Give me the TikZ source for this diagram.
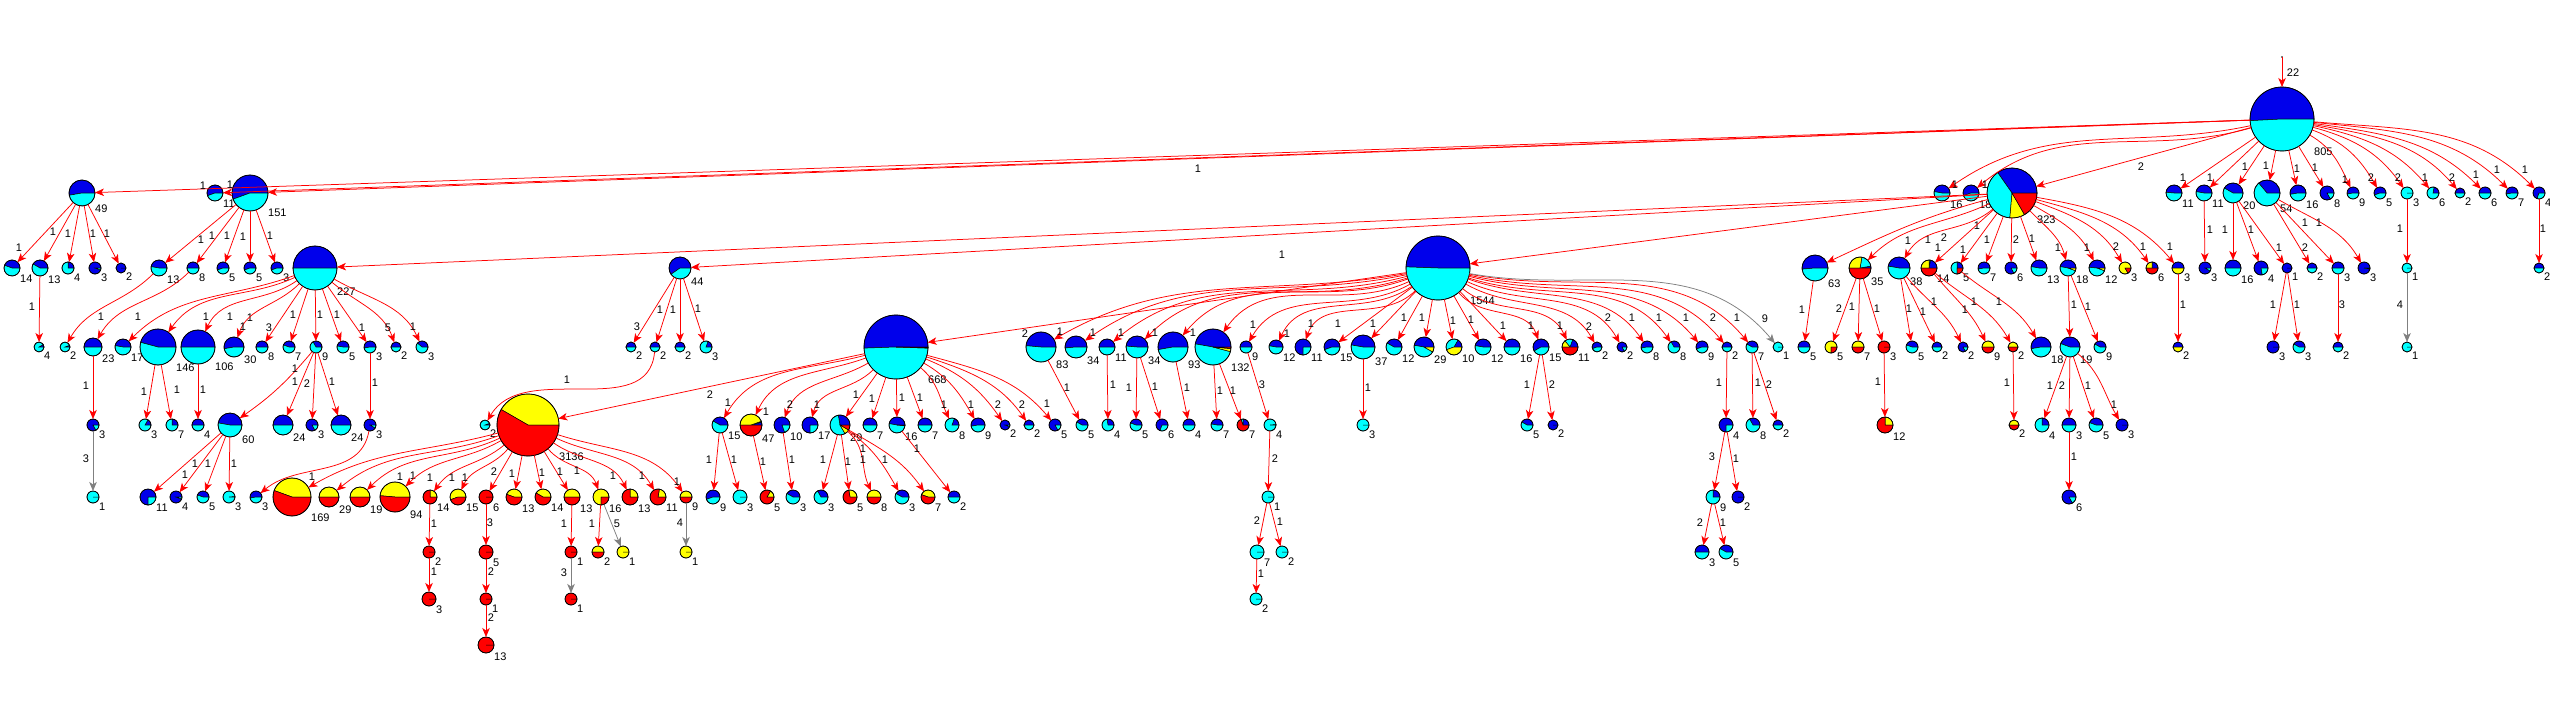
\documentclass[tikz,border=0pt]{standalone}
\usepackage{fontspec}
\setmainfont{Liberation Sans}
\usetikzlibrary{arrows.meta}
\definecolor{pb}{RGB}{0,0,235}
\definecolor{pc}{RGB}{0,255,255}
\definecolor{py}{RGB}{255,255,0}
\definecolor{pr}{RGB}{255,0,0}
\definecolor{eg}{RGB}{128,128,128}
\tikzset{
 pie/.style={circle,draw=black,line width=0.7pt,inner sep=0pt,outer sep=0pt},
 wedge/.style={draw=black,line width=0.5pt},
 lnk/.style={draw=pr,line width=0.75pt,-{Stealth[length=9pt,width=7.5pt,inset=2.5pt]}},
 elab/.style={font=\fontsize{11}{12}\selectfont,inner sep=0pt,text=black},
 nlab/.style={font=\fontsize{11}{12}\selectfont,inner sep=0pt,anchor=north west,text=black},
}
% name, x, y (pixels, downward), r, blue deg, cyan deg, yellow deg, label
\newcommand{\PieNode}[8]{%
 \pgfmathsetmacro{\aA}{#5}%
 \pgfmathsetmacro{\aB}{#5+#6}%
 \pgfmathsetmacro{\aC}{#5+#6+#7}%
 \begin{scope}[shift={(#2,-#3)}]
 \ifdim\aA pt>0pt \filldraw[wedge,fill=pb] (0,0) -- (0:#4pt) arc[start angle=0,end angle=\aA,radius=#4pt] -- cycle;\fi
 \ifdim #6pt>0pt \filldraw[wedge,fill=pc] (0,0) -- (\aA:#4pt) arc[start angle=\aA,end angle=\aB,radius=#4pt] -- cycle;\fi
 \ifdim #7pt>0pt \filldraw[wedge,fill=py] (0,0) -- (\aB:#4pt) arc[start angle=\aB,end angle=\aC,radius=#4pt] -- cycle;\fi
 \ifdim \aC pt<360pt \filldraw[wedge,fill=pr] (0,0) -- (\aC:#4pt) arc[start angle=\aC,end angle=360,radius=#4pt] -- cycle;\fi
 \end{scope}
 \node[pie,minimum size={2*#4pt}] (#1) at (#2,-#3) {};
 \node[nlab] at ({#2+#4},{-#3-0.9*#4}) {#8};
}
% [opts]{from}{path op}{to}{label}{lx}{ly}
\newcommand{\Edg}[7][]{\draw[lnk,#1] (#2) #3 (#4) node[elab] at (#6,-#7) {#5};}
\begin{document}
\begin{tikzpicture}[x=1pt,y=1pt]
\useasboundingbox (0,0) rectangle (2550,-704);
\fill[white] (0,0) rectangle (2550,-704);
% ---------------- nodes ----------------
\PieNode{R}{2282}{119}{32}{183}{177}{0}{805}
% row A
\PieNode{a49}{82}{193}{13}{190}{170}{0}{49}
\PieNode{a11L}{215}{193}{8}{200}{160}{0}{11}
\PieNode{a151}{250}{193}{18}{200}{160}{0}{151}
\PieNode{a16}{1942}{193}{8}{170}{190}{0}{16}
\PieNode{a18}{1971}{193}{8}{200}{160}{0}{18}
\PieNode{a323}{2012}{193}{25}{125}{140}{35}{323}
\PieNode{a11a}{2174}{193}{8}{175}{185}{0}{11}
\PieNode{a11b}{2204}{193}{8}{170}{190}{0}{11}
\PieNode{a20}{2233}{193}{10}{150}{210}{0}{20}
\PieNode{a54}{2267}{193}{13}{130}{230}{0}{54}
\PieNode{a16r}{2298}{193}{8}{190}{170}{0}{16}
\PieNode{a8}{2327}{193}{7}{300}{60}{0}{8}
\PieNode{a9}{2353}{193}{6}{190}{170}{0}{9}
\PieNode{a5}{2380}{193}{6}{200}{160}{0}{5}
\PieNode{a3c}{2407}{193}{6}{0}{360}{0}{3}
\PieNode{a6c}{2433}{193}{6}{80}{280}{0}{6}
\PieNode{a2}{2460}{193}{5}{180}{180}{0}{2}
\PieNode{a6}{2485}{193}{6}{180}{180}{0}{6}
\PieNode{a7}{2512}{193}{6}{190}{170}{0}{7}
\PieNode{a4}{2539}{193}{6}{250}{110}{0}{4}
% row B
\PieNode{b14}{12}{268}{8}{160}{200}{0}{14}
\PieNode{b13}{40}{268}{8}{150}{210}{0}{13}
\PieNode{b4}{68}{268}{6}{90}{270}{0}{4}
\PieNode{b3}{95}{268}{6}{340}{20}{0}{3}
\PieNode{b2}{121}{268}{5}{360}{0}{0}{2}
\PieNode{b13b}{159}{268}{8}{170}{190}{0}{13}
\PieNode{b8}{193}{268}{6}{180}{180}{0}{8}
\PieNode{b5}{223}{268}{6}{200}{160}{0}{5}
\PieNode{b5b}{250}{268}{6}{200}{160}{0}{5}
\PieNode{b3b}{277}{268}{6}{200}{160}{0}{3}
\PieNode{b227}{315}{268}{22}{180}{180}{0}{227}
\PieNode{b44}{680}{268}{11}{215}{145}{0}{44}
\PieNode{b1544}{1438}{268}{32}{178}{182}{0}{1544}
\PieNode{b63}{1815}{268}{13}{185}{175}{0}{63}
\PieNode{b35}{1860}{268}{11}{10}{70}{100}{35}
\PieNode{b38}{1899}{268}{11}{170}{190}{0}{38}
\PieNode{b14r}{1929}{268}{8}{80}{10}{90}{14}
\PieNode{b5r}{1957}{268}{6}{90}{180}{0}{5}
\PieNode{b7r}{1984}{268}{6}{190}{170}{0}{7}
\PieNode{b6r}{2011}{268}{6}{300}{60}{0}{6}
\PieNode{b13r}{2039}{268}{8}{170}{190}{0}{13}
\PieNode{b18r}{2068}{268}{8}{170}{170}{20}{18}
\PieNode{b12r}{2097}{268}{8}{175}{165}{20}{12}
\PieNode{b3y}{2125}{268}{6}{0}{0}{300}{3}
\PieNode{b6y}{2152}{268}{6}{90}{0}{90}{6}
\PieNode{b3by}{2178}{268}{6}{180}{0}{180}{3}
\PieNode{b3c}{2205}{268}{6}{330}{30}{0}{3}
\PieNode{b16}{2233}{268}{8}{180}{180}{0}{16}
\PieNode{b4r}{2261}{268}{7}{280}{80}{0}{4}
\PieNode{b1}{2287}{268}{5}{360}{0}{0}{1}
\PieNode{b2r}{2312}{268}{5}{180}{180}{0}{2}
\PieNode{b3r}{2338}{268}{6}{180}{180}{0}{3}
\PieNode{b3s}{2364}{268}{6}{350}{10}{0}{3}
\PieNode{b1c}{2407}{268}{5}{0}{360}{0}{1}
\PieNode{b2s}{2539}{268}{5}{180}{180}{0}{2}
% row C
\PieNode{c4}{39}{347}{5}{30}{330}{0}{4}
\PieNode{c2}{65}{347}{5}{20}{340}{0}{2}
\PieNode{c23}{93}{347}{9}{180}{180}{0}{23}
\PieNode{c17}{123}{347}{8}{170}{190}{0}{17}
\PieNode{c146}{158}{347}{18}{165}{195}{0}{146}
\PieNode{c106}{198}{347}{17}{180}{180}{0}{106}
\PieNode{c30}{234}{347}{10}{190}{170}{0}{30}
\PieNode{c8}{262}{347}{6}{180}{180}{0}{8}
\PieNode{c7}{289}{347}{6}{160}{200}{0}{7}
\PieNode{c9}{316}{347}{6}{120}{240}{0}{9}
\PieNode{c5}{343}{347}{6}{170}{190}{0}{5}
\PieNode{c3}{370}{347}{6}{190}{170}{0}{3}
\PieNode{c2b}{396}{347}{5}{180}{180}{0}{2}
\PieNode{c3x}{422}{347}{6}{140}{220}{0}{3}
\PieNode{c2p}{631}{347}{5}{180}{180}{0}{2}
\PieNode{c2q}{655}{347}{5}{180}{180}{0}{2}
\PieNode{c2r}{680}{347}{5}{180}{180}{0}{2}
\PieNode{c3d}{706}{347}{6}{70}{290}{0}{3}
\PieNode{c668}{896}{347}{32}{182}{176}{1}{668}
\PieNode{c83}{1041}{347}{15}{175}{185}{0}{83}
\PieNode{c34}{1076}{347}{11}{185}{175}{0}{34}
\PieNode{c11}{1107}{347}{8}{180}{180}{0}{11}
\PieNode{c34b}{1137}{347}{11}{175}{185}{0}{34}
\PieNode{c93}{1173}{347}{15}{190}{170}{0}{93}
\PieNode{c132}{1213}{347}{18}{170}{175}{10}{132}
\PieNode{c9b}{1246}{347}{6}{180}{180}{0}{9}
\PieNode{c12}{1276}{347}{7}{170}{190}{0}{12}
\PieNode{c11b}{1303}{347}{8}{270}{90}{0}{11}
\PieNode{c15}{1332}{347}{8}{200}{160}{0}{15}
\PieNode{c37}{1363}{347}{12}{170}{190}{0}{37}
\PieNode{c12b}{1394}{347}{8}{150}{210}{0}{12}
\PieNode{c29}{1424}{347}{10}{170}{160}{30}{29}
\PieNode{c10}{1454}{347}{8}{60}{140}{160}{10}
\PieNode{c12c}{1483}{347}{8}{170}{190}{0}{12}
\PieNode{c16}{1512}{347}{8}{180}{180}{0}{16}
\PieNode{c15b}{1541}{347}{8}{210}{150}{0}{15}
\PieNode{c11r}{1570}{347}{8}{70}{60}{50}{11}
\PieNode{c2x}{1597}{347}{5}{200}{160}{0}{2}
\PieNode{c2y}{1622}{347}{5}{300}{60}{0}{2}
\PieNode{c8a}{1647}{347}{6}{190}{170}{0}{8}
\PieNode{c8b}{1674}{347}{6}{120}{240}{0}{8}
\PieNode{c9a}{1702}{347}{6}{200}{160}{0}{9}
\PieNode{c2z}{1727}{347}{5}{180}{180}{0}{2}
\PieNode{c7b}{1752}{347}{6}{150}{210}{0}{7}
\PieNode{c1g}{1778}{347}{5}{0}{360}{0}{1}
\PieNode{c5a}{1804}{347}{6}{180}{180}{0}{5}
\PieNode{c5y}{1831}{347}{6}{0}{0}{270}{5}
\PieNode{c7y}{1858}{347}{6}{0}{0}{180}{7}
\PieNode{c3r}{1884}{347}{6}{0}{0}{0}{3}
\PieNode{c5c}{1912}{347}{6}{160}{200}{0}{5}
\PieNode{c2c}{1937}{347}{5}{180}{180}{0}{2}
\PieNode{c2d}{1963}{347}{5}{300}{60}{0}{2}
\PieNode{c9y}{1988}{347}{6}{0}{0}{180}{9}
\PieNode{c2yr}{2013}{347}{5}{0}{0}{180}{2}
\PieNode{c18}{2041}{347}{10}{190}{170}{0}{18}
\PieNode{c19}{2070}{347}{10}{160}{200}{0}{19}
\PieNode{c9c}{2100}{347}{6}{150}{210}{0}{9}
\PieNode{c2by}{2178}{347}{5}{180}{0}{180}{2}
\PieNode{c3a}{2273}{347}{6}{360}{0}{0}{3}
\PieNode{c3b}{2299}{347}{6}{150}{210}{0}{3}
\PieNode{c2s}{2338}{347}{5}{180}{180}{0}{2}
\PieNode{c1q}{2407}{347}{5}{0}{360}{0}{1}
% row D
\PieNode{d3}{93}{425}{6}{300}{60}{0}{3}
\PieNode{d3b}{145}{425}{6}{60}{300}{0}{3}
\PieNode{d7}{172}{425}{6}{90}{270}{0}{7}
\PieNode{d4}{198}{425}{6}{180}{180}{0}{4}
\PieNode{d60}{230}{425}{12}{170}{190}{0}{60}
\PieNode{d24}{283}{425}{10}{180}{180}{0}{24}
\PieNode{d3c}{312}{425}{6}{300}{60}{0}{3}
\PieNode{d24b}{341}{425}{10}{180}{180}{0}{24}
\PieNode{d3d}{370}{425}{6}{330}{30}{0}{3}
\PieNode{d2c}{485}{425}{5}{20}{340}{0}{2}
\PieNode{d3136}{528}{425}{31}{0}{0}{150}{3136}
\PieNode{d15}{720}{425}{8}{150}{210}{0}{15}
\PieNode{d47}{751}{425}{11}{15}{5}{160}{47}
\PieNode{d10}{782}{425}{8}{290}{70}{0}{10}
\PieNode{d17}{810}{425}{8}{270}{90}{0}{17}
\PieNode{d29}{840}{425}{10}{100}{200}{30}{29}
\PieNode{d7a}{870}{425}{7}{180}{180}{0}{7}
\PieNode{d16}{897}{425}{8}{170}{185}{0}{16}
\PieNode{d7b}{925}{425}{7}{180}{180}{0}{7}
\PieNode{d8}{952}{425}{7}{70}{290}{0}{8}
\PieNode{d9}{978}{425}{7}{190}{170}{0}{9}
\PieNode{d2}{1005}{425}{5}{340}{20}{0}{2}
\PieNode{d2b}{1029}{425}{5}{180}{180}{0}{2}
\PieNode{d5}{1055}{425}{6}{300}{60}{0}{5}
\PieNode{d5b}{1082}{425}{6}{150}{210}{0}{5}
\PieNode{d4b}{1108}{425}{6}{100}{260}{0}{4}
\PieNode{d5c}{1136}{425}{6}{160}{200}{0}{5}
\PieNode{d6}{1162}{425}{6}{250}{110}{0}{6}
\PieNode{d4c}{1189}{425}{6}{180}{180}{0}{4}
\PieNode{d7c}{1217}{425}{6}{170}{190}{0}{7}
\PieNode{d7r}{1243}{425}{6}{90}{20}{0}{7}
\PieNode{d4d}{1270}{425}{6}{5}{355}{0}{4}
\PieNode{d3e}{1363}{425}{6}{0}{360}{0}{3}
\PieNode{d5d}{1527}{425}{6}{150}{210}{0}{5}
\PieNode{d2d}{1553}{425}{5}{360}{0}{0}{2}
\PieNode{d4e}{1726}{425}{7}{270}{90}{0}{4}
\PieNode{d8e}{1753}{425}{7}{120}{240}{0}{8}
\PieNode{d2e}{1778}{425}{5}{180}{180}{0}{2}
\PieNode{d12}{1885}{425}{8}{0}{0}{90}{12}
\PieNode{d2f}{2014}{425}{5}{0}{0}{180}{2}
\PieNode{d4f}{2042}{425}{7}{90}{270}{0}{4}
\PieNode{d3f}{2069}{425}{7}{180}{180}{0}{3}
\PieNode{d5f}{2096}{425}{7}{160}{200}{0}{5}
\PieNode{d3g}{2122}{425}{6}{360}{0}{0}{3}
% row E
\PieNode{e1}{93}{497}{6}{0}{360}{0}{1}
\PieNode{e11}{148}{497}{8}{270}{90}{0}{11}
\PieNode{e4}{176}{497}{6}{340}{20}{0}{4}
\PieNode{e5}{203}{497}{6}{160}{200}{0}{5}
\PieNode{e3}{229}{497}{6}{5}{355}{0}{3}
\PieNode{e3b}{256}{497}{6}{190}{170}{0}{3}
\PieNode{e169}{292}{497}{19}{0}{0}{160}{169}
\PieNode{e29}{329}{497}{10}{0}{0}{180}{29}
\PieNode{e19}{360}{497}{10}{0}{0}{180}{19}
\PieNode{e94}{395}{497}{15}{0}{0}{175}{94}
\PieNode{e14}{430}{497}{7}{0}{0}{90}{14}
\PieNode{e15}{458}{497}{8}{0}{0}{200}{15}
\PieNode{e6}{486}{497}{7}{0}{0}{0}{6}
\PieNode{e13}{514}{497}{8}{0}{0}{160}{13}
\PieNode{e14b}{543}{497}{8}{0}{0}{150}{14}
\PieNode{e13b}{572}{497}{8}{0}{0}{180}{13}
\PieNode{e16}{601}{497}{8}{0}{0}{270}{16}
\PieNode{e13c}{630}{497}{8}{0}{0}{90}{13}
\PieNode{e11y}{658}{497}{8}{0}{0}{80}{11}
\PieNode{e9}{686}{497}{6}{0}{0}{180}{9}
\PieNode{e9b}{713}{497}{7}{200}{160}{0}{9}
\PieNode{e3c}{740}{497}{7}{0}{360}{0}{3}
\PieNode{e5r}{767}{497}{7}{0}{0}{60}{5}
\PieNode{e3d}{793}{497}{7}{150}{210}{0}{3}
\PieNode{e3e}{821}{497}{7}{120}{240}{0}{3}
\PieNode{e5y}{850}{497}{7}{0}{0}{100}{5}
\PieNode{e8}{874}{497}{7}{0}{0}{180}{8}
\PieNode{e3f}{902}{497}{7}{150}{210}{0}{3}
\PieNode{e7y}{928}{497}{7}{0}{0}{160}{7}
\PieNode{e2g}{954}{497}{6}{180}{180}{0}{2}
\PieNode{e2h}{1268}{497}{6}{0}{360}{0}{1}
\PieNode{e9c}{1713}{497}{7}{90}{270}{0}{9}
\PieNode{e2i}{1738}{497}{6}{360}{0}{0}{2}
\PieNode{e6b}{2069}{497}{7}{300}{60}{0}{6}
% row F
\PieNode{f2}{429}{552}{6}{0}{0}{0}{2}
\PieNode{f5}{486}{552}{7}{0}{0}{0}{5}
\PieNode{f1}{571}{552}{6}{0}{0}{0}{1}
\PieNode{f2b}{598}{552}{6}{0}{0}{180}{2}
\PieNode{f1y}{623}{552}{6}{0}{0}{360}{1}
\PieNode{f1z}{686}{552}{6}{0}{0}{360}{1}
\PieNode{f7}{1257}{552}{7}{0}{360}{0}{7}
\PieNode{f2c}{1282}{552}{6}{0}{360}{0}{2}
\PieNode{f3}{1702}{552}{7}{180}{180}{0}{3}
\PieNode{f5b}{1726}{552}{7}{150}{210}{0}{5}
% row G, H
\PieNode{g3}{429}{599}{7}{0}{0}{0}{3}
\PieNode{g1}{486}{599}{6}{0}{0}{0}{1}
\PieNode{g1b}{571}{599}{6}{0}{0}{0}{1}
\PieNode{g2}{1256}{599}{6}{0}{360}{0}{2}
\PieNode{h13}{486}{645}{8}{0}{0}{0}{13}
% ---------------- edges ----------------
\coordinate (rin) at (2282,-57);
\fill (rin) circle (0.8pt);
\Edg{rin}{--}{R}{22}{2293}{73}
\Edg{R}{--}{a49}{1}{1198}{169}
\Edg{R}{--}{a11L}{1}{203}{186}
\Edg{R}{--}{a151}{1}{230}{185}
\Edg{R}{--}{a323}{2}{2141}{167}
\Edg{R}{to[out=192,in=35]}{a16}{1}{1955}{185}
\Edg{R}{to[out=196,in=40]}{a18}{1}{1985}{185}
\Edg{R}{--}{a11a}{1}{2183}{178}
\Edg{R}{--}{a11b}{1}{2210}{178}
\Edg{R}{--}{a20}{1}{2245}{167}
\Edg{R}{--}{a54}{1}{2266}{166}
\Edg{R}{--}{a16r}{1}{2297}{169}
\Edg{R}{--}{a8}{1}{2315}{168}
\Edg{R}{to[out=-30,in=115]}{a9}{1}{2345}{180}
\Edg{R}{to[out=-20,in=120]}{a5}{2}{2371}{178}
\Edg{R}{to[out=-15,in=125]}{a3c}{2}{2398}{178}
\Edg{R}{to[out=-12,in=130]}{a6c}{1}{2425}{178}
\Edg{R}{to[out=-10,in=130]}{a2}{2}{2452}{178}
\Edg{R}{to[out=-8,in=135]}{a6}{1}{2476}{175}
\Edg{R}{to[out=-6,in=135]}{a7}{1}{2497}{170}
\Edg{R}{to[out=-5,in=135]}{a4}{1}{2525}{170}
% A -> B
\Edg{a49}{--}{b14}{1}{19}{248}
\Edg{a49}{--}{b13}{1}{53}{232}
\Edg{a49}{--}{b4}{1}{68}{234}
\Edg{a49}{--}{b3}{1}{93}{234}
\Edg{a49}{--}{b2}{1}{107}{234}
\Edg{a151}{--}{b13b}{1}{201}{240}
\Edg{a151}{--}{b8}{1}{212}{236}
\Edg{a151}{--}{b5}{1}{227}{236}
\Edg{a151}{--}{b5b}{1}{243}{237}
\Edg{a151}{--}{b3b}{1}{270}{236}
\draw[lnk] (a323) -- (b227);
\Edg{a323}{--}{b44}{1}{1282}{255}
\Edg{a323}{--}{b1544}{1}{1977}{226}
\Edg{a323}{to[out=195,in=25]}{b63}{1}{1908}{241}
\Edg{a323}{to[out=205,in=45]}{b35}{1}{1928}{240}
\Edg{a323}{to[out=220,in=60]}{b38}{1}{1938}{248}
\Edg{a323}{--}{b14r}{2}{1944}{238}
\Edg{a323}{--}{b5r}{1}{1963}{250}
\Edg{a323}{--}{b7r}{1}{1987}{240}
\Edg{a323}{--}{b6r}{2}{2016}{240}
\Edg{a323}{--}{b13r}{1}{2032}{239}
\Edg{a323}{to[out=-45,in=105]}{b18r}{1}{2058}{248}
\Edg{a323}{to[out=-30,in=115]}{b12r}{1}{2087}{248}
\Edg{a323}{to[out=-20,in=120]}{b3y}{2}{2116}{247}
\Edg{a323}{to[out=-15,in=125]}{b6y}{1}{2143}{247}
\Edg{a323}{to[out=-10,in=130]}{b3by}{1}{2170}{247}
\Edg{a11b}{--}{b3c}{1}{2210}{230}
\Edg{a20}{--}{b16}{1}{2225}{230}
\Edg{a20}{--}{b4r}{1}{2251}{230}
\Edg{a20}{--}{b1}{1}{2279}{248}
\Edg{a54}{--}{b2r}{2}{2305}{248}
\Edg{a54}{--}{b3r}{1}{2305}{223}
\Edg{a54}{to[out=-30,in=120]}{b3s}{1}{2319}{223}
\Edg{a3c}{--}{b1c}{1}{2400}{229}
\Edg{a4}{--}{b2s}{1}{2543}{229}
% B -> C
\Edg{b13}{--}{c4}{1}{32}{307}
\Edg{b13b}{to[out=225,in=60]}{c2}{1}{101}{317}
\Edg{b8}{to[out=225,in=60]}{c23}{1}{138}{317}
\Edg{b227}{to[out=200,in=45]}{c17}{1}{206}{317}
\Edg{b227}{to[out=205,in=55]}{c146}{1}{230}{317}
\Edg{b227}{to[out=215,in=65]}{c106}{1}{250}{318}
\Edg{b227}{to[out=225,in=70]}{c30}{1}{243}{327}
\Edg{b227}{--}{c8}{3}{269}{328}
\Edg{b227}{--}{c7}{1}{293}{315}
\Edg{b227}{--}{c9}{1}{320}{315}
\Edg{b227}{--}{c5}{1}{337}{315}
\Edg{b227}{--}{c3}{1}{362}{328}
\Edg{b227}{to[out=-40,in=110]}{c2b}{5}{388}{328}
\Edg{b227}{to[out=-30,in=115]}{c3x}{1}{413}{327}
\Edg{b44}{--}{c2p}{3}{637}{327}
\Edg{b44}{--}{c2q}{1}{660}{310}
\Edg{b44}{--}{c2r}{1}{673}{310}
\Edg{b44}{--}{c3d}{1}{698}{309}
\draw[lnk] (b1544) -- (c668);
\Edg{b1544}{to[out=190,in=30]}{c83}{2}{1025}{334}
\Edg{b1544}{to[out=192,in=35]}{c34}{1}{1060}{332}
\Edg{b1544}{to[out=195,in=40]}{c11}{1}{1093}{333}
\Edg{b1544}{to[out=198,in=45]}{c34b}{1}{1121}{333}
\Edg{b1544}{to[out=200,in=50]}{c93}{1}{1155}{333}
\Edg{b1544}{to[out=205,in=55]}{c132}{1}{1193}{333}
\Edg{b1544}{to[out=210,in=60]}{c9b}{1}{1253}{325}
\Edg{b1544}{to[out=215,in=65]}{c12}{1}{1287}{334}
\Edg{b1544}{to[out=225,in=70]}{c11b}{1}{1311}{324}
\Edg{b1544}{--}{c15}{1}{1338}{324}
\Edg{b1544}{--}{c37}{1}{1373}{324}
\Edg{b1544}{--}{c12b}{1}{1404}{318}
\Edg{b1544}{--}{c29}{1}{1422}{318}
\Edg{b1544}{--}{c10}{1}{1453}{321}
\Edg{b1544}{--}{c12c}{1}{1471}{320}
\Edg{b1544}{--}{c16}{1}{1503}{326}
\Edg{b1544}{to[out=-50,in=110]}{c15b}{1}{1531}{326}
\Edg{b1544}{to[out=-40,in=115]}{c11r}{1}{1560}{326}
\Edg{b1544}{to[out=-30,in=120]}{c2x}{2}{1589}{327}
\Edg{b1544}{to[out=-25,in=120]}{c2y}{2}{1608}{318}
\Edg{b1544}{to[out=-20,in=125]}{c8a}{1}{1632}{318}
\Edg{b1544}{to[out=-18,in=125]}{c8b}{1}{1659}{318}
\Edg{b1544}{to[out=-15,in=130]}{c9a}{1}{1686}{318}
\Edg{b1544}{to[out=-13,in=130]}{c2z}{2}{1713}{318}
\Edg{b1544}{to[out=-11,in=130]}{c7b}{1}{1737}{318}
\Edg[draw=eg]{b1544}{to[out=-10,in=130]}{c1g}{9}{1765}{319}
\Edg{b63}{--}{c5a}{1}{1802}{310}
\Edg{b35}{--}{c5y}{2}{1839}{309}
\Edg{b35}{--}{c7y}{1}{1852}{307}
\Edg{b35}{--}{c3r}{1}{1877}{309}
\Edg{b38}{--}{c5c}{1}{1909}{309}
\Edg{b38}{--}{c2c}{1}{1923}{312}
\Edg{b38}{to[out=-50,in=115]}{c2d}{1}{1934}{302}
\Edg{b14r}{to[out=-50,in=115]}{c9y}{1}{1965}{310}
\Edg{b14r}{to[out=-40,in=120]}{c2yr}{1}{1974}{302}
\Edg{b5r}{to[out=-40,in=120]}{c18}{1}{1999}{302}
\Edg{b18r}{--}{c19}{1}{2074}{305}
\Edg{b18r}{--}{c9c}{1}{2088}{307}
\Edg{b3by}{--}{c2by}{1}{2183}{305}
\Edg{b1}{--}{c3a}{1}{2273}{305}
\Edg{b1}{--}{c3b}{1}{2297}{305}
\Edg{b3r}{--}{c2s}{3}{2342}{305}
\Edg[draw=eg]{b1c}{--}{c1q}{4}{2400}{305}
% C -> D
\Edg{c23}{--}{d3}{1}{86}{386}
\Edg{c146}{--}{d3b}{1}{144}{392}
\Edg{c146}{--}{d7}{1}{177}{390}
\Edg{c106}{--}{d4}{1}{203}{390}
\Edg{c9}{to[out=230,in=35]}{d60}{1}{295}{369}
\Edg{c9}{--}{d24}{1}{295}{382}
\Edg{c9}{--}{d3c}{2}{307}{384}
\Edg{c9}{--}{d24b}{1}{332}{382}
\Edg{c3}{--}{d3d}{1}{375}{383}
\Edg{c2q}{to[out=-95,in=60]}{d2c}{1}{567}{380}
\Edg{c668}{--}{d3136}{2}{710}{395}
\Edg{c668}{to[out=195,in=60]}{d15}{1}{728}{403}
\Edg{c668}{to[out=200,in=65]}{d47}{1}{766}{412}
\Edg{c668}{to[out=210,in=70]}{d10}{2}{790}{405}
\Edg{c668}{to[out=225,in=75]}{d17}{1}{817}{405}
\Edg{c668}{--}{d29}{1}{856}{395}
\Edg{c668}{--}{d7a}{1}{872}{399}
\Edg{c668}{--}{d16}{1}{902}{398}
\Edg{c668}{--}{d7b}{1}{920}{398}
\Edg{c668}{to[out=-40,in=115]}{d8}{1}{944}{405}
\Edg{c668}{to[out=-30,in=120]}{d9}{1}{971}{405}
\Edg{c668}{to[out=-22,in=125]}{d2}{2}{998}{405}
\Edg{c668}{to[out=-18,in=125]}{d2b}{2}{1022}{405}
\Edg{c668}{to[out=-15,in=130]}{d5}{1}{1047}{404}
\Edg{c83}{--}{d5b}{1}{1067}{388}
\Edg{c11}{--}{d4b}{1}{1113}{385}
\Edg{c34b}{--}{d5c}{1}{1129}{388}
\Edg{c34b}{--}{d6}{1}{1155}{387}
\Edg{c93}{--}{d4c}{1}{1187}{388}
\Edg{c132}{--}{d7c}{1}{1220}{391}
\Edg{c132}{--}{d7r}{1}{1233}{391}
\Edg{c9b}{--}{d4d}{3}{1262}{385}
\Edg{c37}{--}{d3e}{1}{1368}{388}
\Edg{c15b}{--}{d5d}{1}{1527}{385}
\Edg{c15b}{--}{d2d}{2}{1552}{385}
\Edg{c2z}{--}{d4e}{1}{1719}{383}
\Edg{c7b}{--}{d8e}{1}{1758}{383}
\Edg{c7b}{--}{d2e}{2}{1769}{385}
\Edg{c3r}{--}{d12}{1}{1878}{382}
\Edg{c2yr}{--}{d2f}{1}{2007}{383}
\Edg{c19}{--}{d4f}{1}{2050}{386}
\Edg{c19}{--}{d3f}{2}{2062}{386}
\Edg{c19}{--}{d5f}{1}{2088}{386}
\Edg{c19}{to[out=-40,in=120]}{d3g}{1}{2114}{405}
% D -> E
\Edg[draw=eg]{d3}{--}{e1}{3}{86}{459}
\Edg{d60}{--}{e11}{1}{195}{464}
\Edg{d60}{--}{e4}{1}{185}{475}
\Edg{d60}{--}{e5}{1}{208}{464}
\Edg{d60}{--}{e3}{1}{234}{464}
\draw[lnk] (d3d) to[out=-100,in=40] (e3b);
\Edg{d3136}{to[out=195,in=30]}{e169}{1}{312}{477}
\Edg{d3136}{to[out=200,in=40]}{e29}{1}{400}{477}
\Edg{d3136}{to[out=205,in=45]}{e19}{1}{413}{476}
\Edg{d3136}{to[out=210,in=45]}{e94}{1}{430}{478}
\Edg{d3136}{to[out=220,in=55]}{e14}{1}{452}{478}
\Edg{d3136}{to[out=230,in=65]}{e15}{1}{465}{478}
\Edg{d3136}{--}{e6}{2}{494}{472}
\Edg{d3136}{--}{e13}{1}{512}{474}
\Edg{d3136}{--}{e14b}{1}{542}{473}
\Edg{d3136}{--}{e13b}{1}{560}{472}
\Edg{d3136}{to[out=-50,in=110]}{e16}{1}{577}{471}
\Edg{d3136}{to[out=-35,in=115]}{e13c}{1}{613}{476}
\Edg{d3136}{to[out=-25,in=120]}{e11y}{1}{642}{476}
\Edg{d3136}{to[out=-18,in=125]}{e9}{1}{677}{482}
\Edg{d15}{--}{e9b}{1}{709}{460}
\Edg{d15}{--}{e3c}{1}{734}{460}
\Edg{d47}{--}{e5r}{1}{763}{462}
\Edg{d10}{--}{e3d}{1}{792}{460}
\Edg{d29}{--}{e3e}{1}{823}{460}
\Edg{d29}{--}{e5y}{1}{848}{462}
\Edg{d29}{to[out=-40,in=115]}{e8}{1}{863}{449}
\Edg{d29}{to[out=-35,in=120]}{e3f}{1}{863}{460}
\Edg{d29}{to[out=-30,in=125]}{e7y}{1}{885}{460}
\Edg{d16}{--}{e2g}{1}{917}{449}
\Edg{d4d}{--}{e2h}{2}{1275}{459}
\Edg{d4e}{--}{e9c}{3}{1712}{457}
\Edg{d4e}{--}{e2i}{1}{1736}{459}
\Edg{d3f}{--}{e6b}{1}{2074}{457}
% E -> F
\Edg{e14}{--}{f2}{1}{434}{524}
\Edg{e6}{--}{f5}{3}{490}{523}
\Edg{e13b}{--}{f1}{1}{564}{524}
\Edg{e16}{--}{f2b}{1}{592}{524}
\Edg[draw=eg]{e16}{--}{f1y}{5}{617}{524}
\Edg[draw=eg]{e9}{--}{f1z}{4}{680}{523}
\Edg{e2h}{--}{f7}{2}{1257}{521}
\Edg{e2h}{--}{f2c}{1}{1280}{522}
\Edg{e9c}{--}{f3}{2}{1700}{523}
\Edg{e9c}{--}{f5b}{1}{1723}{523}
% F -> G -> H
\Edg{f2}{--}{g3}{1}{434}{572}
\Edg{f5}{--}{g1}{2}{491}{572}
\Edg[draw=eg]{f1}{--}{g1b}{3}{564}{573}
\Edg{f7}{--}{g2}{1}{1261}{574}
\Edg{g1}{--}{h13}{2}{491}{618}
\end{tikzpicture}
\end{document}
